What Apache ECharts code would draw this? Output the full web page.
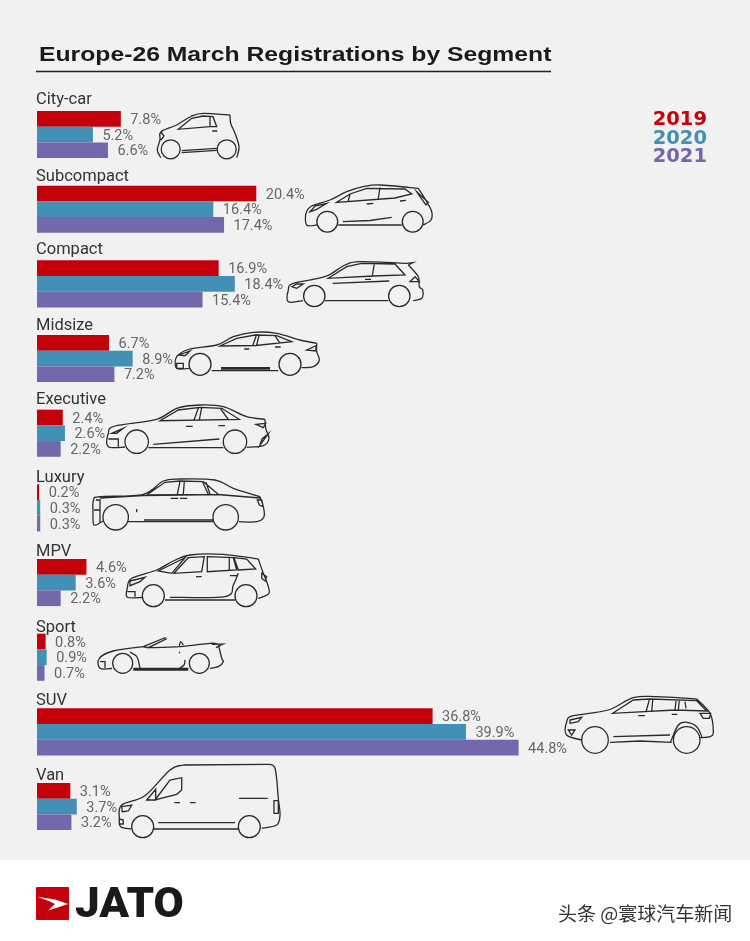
<!DOCTYPE html>
<html>
<head>
<meta charset="utf-8">
<title>Europe-26 March Registrations by Segment</title>
<script src="https://cdn.jsdelivr.net/npm/echarts@6/dist/echarts.min.js"></script>
<style>
  html, body { margin: 0; padding: 0; background: #f1f1f1; }
  #chart { width: 750px; height: 941px; }
</style>
</head>
<body>
<div id="chart"></div>
<script>
const categories = ['City-car', 'Subcompact', 'Compact', 'Midsize', 'Executive', 'Luxury', 'MPV', 'Sport', 'SUV', 'Van'];
const share2019 = [7.8, 20.4, 16.9, 6.7, 2.4, 0.2, 4.6, 0.8, 36.8, 3.1];
const share2020 = [5.2, 16.4, 18.4, 8.9, 2.6, 0.3, 3.6, 0.9, 39.9, 3.7];
const share2021 = [6.6, 17.4, 15.4, 7.2, 2.2, 0.3, 2.2, 0.7, 44.8, 3.2];
const years = ['2019', '2020', '2021'];

// how far each segment name sits above the middle of its bars
const labelLift = [34.5, 32, 34.2, 33, 32.9, 30.5, 31, 29.7, 31.3, 30.9];
const colors = ['#c4000b', '#4290b5', '#7268ac'];

// icon helpers, coordinates are page pixels
function curve(p) {
  let d = 'M' + p[0] + ' ' + p[1];
  const n = p.length / 2;
  const at = i => { i = Math.max(0, Math.min(n - 1, i)); return [p[i * 2], p[i * 2 + 1]]; };
  for (let i = 0; i < n - 1; i++) {
    const a = at(i - 1), b = at(i), c = at(i + 1), e = at(i + 2);
    d += 'C' + (b[0] + (c[0] - a[0]) / 6) + ' ' + (b[1] + (c[1] - a[1]) / 6) + ' ' +
      (c[0] - (e[0] - b[0]) / 6) + ' ' + (c[1] - (e[1] - b[1]) / 6) + ' ' + c[0] + ' ' + c[1];
  }
  return d;
}
function poly(p, closed) {
  let d = 'M' + p[0] + ' ' + p[1];
  for (let i = 2; i < p.length; i += 2) d += 'L' + p[i] + ' ' + p[i + 1];
  return closed ? d + 'Z' : d;
}
function wheel(x, y, r) {
  return 'M' + (x - r) + ' ' + y + 'a' + r + ' ' + r + ' 0 1 0 ' + 2 * r + ' 0a' + r + ' ' + r + ' 0 1 0 ' + -2 * r + ' 0';
}

const carPaths = [
  // city-car
  [wheel(170.7, 149.3, 9.5), wheel(226.7, 149.3, 9.5),
   curve([160.7, 157.7, 157.3, 150, 160, 140, 161, 131.7, 176.7, 125, 191.7, 116, 203.3, 113.3, 230, 115]),
   curve([230, 115, 230.7, 123.3, 235, 133.3, 239, 146.7, 236.7, 157.7]),
   poly([181.7, 150.7, 216.7, 148.3]), poly([181.7, 152.7, 216.7, 150.3]),
   poly([178.3, 129.3, 191.7, 118.3, 203, 116, 213, 116.7, 216.7, 126.7, 210, 126.7], true),
   poly([210, 117.3, 210, 126.7]), poly([212.3, 131, 217.3, 131]), poly([161, 132, 164, 136, 161, 140])],
  // subcompact
  [wheel(327.3, 221.7, 10.4), wheel(412.7, 221.7, 10.4),
   curve([316.7, 225, 306.7, 225, 306, 213.3, 311.7, 206, 330, 200, 346.7, 191.7, 363.3, 186.7, 380, 185, 418.3, 188.3]),
   curve([418.3, 188.3, 426.7, 201.7, 431.7, 211.7, 431, 220, 423.3, 225]),
   poly([338.3, 225, 401.7, 225]), poly([342.7, 221.7, 370, 220.5, 391.7, 217.3]),
   poly([336.7, 202.3, 350, 194, 366.7, 188.3, 405, 189, 411.7, 194, 395, 198], true),
   poly([350, 194, 348.3, 201]), poly([380, 187.5, 378.3, 198.5]),
   poly([366.7, 204, 373.3, 203.3]), poly([400, 201, 406, 200.3]),
   poly([310, 211.7, 315, 206, 326.7, 203.3, 316.7, 209.3], true),
   poly([416.7, 191.7, 428.3, 202.3, 426, 205, 420, 196.7], true)],
  // compact
  [wheel(314.3, 296, 10.7), wheel(399.3, 296, 10.7),
   curve([303, 300.7, 288.3, 301.7, 288.3, 290, 293.3, 283.3, 325, 276.7, 345, 265, 360, 261.7, 406.7, 263.3]),
   poly([406.7, 263.3, 413.3, 262.5, 408.3, 265]),
   curve([408.3, 265, 418.3, 276.7, 419.3, 286.7, 422.7, 290, 421.7, 298.3, 413.3, 300.7]),
   poly([325, 300.7, 388.3, 300.7]), poly([332.7, 283.3, 389.3, 281]), poly([365, 279.3, 371, 279.3]),
   poly([328.3, 278.3, 346.7, 266.7, 361.7, 263.3, 395, 264, 405, 275, 373.3, 276], true),
   poly([374.3, 264, 372.3, 276]),
   poly([410, 281.7, 419.3, 281.7, 415, 276.7], true),
   poly([291.7, 286.7, 296.7, 284, 303.3, 284, 296.7, 288.3], true)],
  // midsize
  [wheel(200, 364.3, 11), wheel(290, 364.3, 11),
   curve([189, 368.3, 176.7, 368.3, 176.7, 356.7, 190, 349, 216.7, 345, 233.3, 336.7, 253.3, 332.3, 276.7, 333.3, 300, 340, 316.7, 343.3]),
   curve([316.7, 343.3, 316.7, 351.7, 319.3, 360, 313.3, 366.7, 301.7, 367.7]),
   poly([211.7, 370.7, 278.3, 370.7]), poly([221, 367.7, 270, 367.7]), poly([221, 369, 270, 369]),
   poly([220, 346, 236.7, 338.3, 255, 335, 276.7, 335.7, 291.7, 341.7, 256, 345.5], true),
   poly([256.7, 334.3, 252.7, 345.7]), poly([259.3, 334.3, 256.7, 345]), poly([275, 335.7, 280, 343.3]),
   poly([244.3, 349, 249.3, 349]), poly([275, 347, 280.7, 347]),
   poly([179, 355, 190, 351, 185, 355.7], true), poly([306.7, 350, 316, 345.7, 316, 351], true),
   poly([176.7, 363.3, 183.3, 363.3, 183.3, 368.3, 176.7, 368.3], true)],
  // executive
  [wheel(136.7, 441.7, 11.7), wheel(235, 441.7, 11.7),
   curve([125, 447, 108.3, 446.7, 108.3, 433.3, 115, 426, 156.7, 419.3, 176.7, 408.3, 200, 405, 223.3, 406.7, 246.7, 416.7, 265, 419.3]),
   curve([265, 419.3, 265.7, 428.3, 269, 438.3, 263.3, 445.7, 246.7, 447.3]),
   poly([148.3, 447.7, 223.3, 447.7]), poly([153.3, 444.3, 219.3, 439]),
   poly([160, 420.7, 178.3, 410, 200, 407.3, 221.7, 408.3, 239.3, 419.3], true),
   poly([198.3, 408.3, 194, 420]), poly([201.7, 407.7, 199.3, 420]), poly([220.7, 409, 228.3, 419.3]),
   poly([186, 426.3, 192.7, 426.3]), poly([218.3, 425.7, 225, 425.7]),
   poly([111.7, 433.3, 123.3, 428.3, 116.7, 433.3], true), poly([256, 424.3, 265.7, 423.3, 263.3, 427.7], true),
   poly([108.3, 439, 118.3, 439, 118.3, 446.7], false), poly([260, 445, 268, 434, 262, 439], true)],
  // luxury
  [wheel(115.7, 517.3, 12.7), wheel(225.7, 517.3, 12.7),
   curve([103, 521, 94, 525, 93, 512, 93.5, 500, 100, 496.7, 143.3, 494.3, 163.3, 481, 180, 479, 215, 480, 233.3, 488.3, 260, 496.7]),
   curve([260, 496.7, 263.3, 506.7, 264, 516.7, 256.7, 521.7, 239, 521.7]),
   poly([128.3, 521.7, 213.3, 521.7]), poly([144, 520, 213.3, 520]), poly([100, 498, 143, 495.5, 218, 494.5, 260, 498]),
   poly([146.7, 495, 165, 482.3, 180, 481, 203.3, 481.7, 218.3, 494.3], true),
   poly([180, 481.7, 177.3, 494.3]), poly([184.3, 481.7, 183.3, 494.3]),
   poly([202.7, 482.3, 208.3, 494.3]), poly([206, 482.3, 210, 494.3]),
   poly([170.7, 498.3, 178.3, 498.3]), poly([180, 498.3, 187.3, 498.3]), poly([136.7, 509, 136.7, 512.3]),
   poly([257.3, 500, 261.7, 500, 263.3, 506.7, 259.3, 505], true),
   poly([96, 500, 100, 500, 100, 523]), poly([94, 510, 100, 510])],
  // mpv
  [wheel(153.3, 595.7, 11), wheel(246, 595.7, 11),
   curve([142, 597.5, 127.3, 597.3, 127.3, 588.3, 131.7, 578.3, 156.7, 570, 173.3, 561, 190, 555, 223.3, 554.3, 258.3, 559]),
   curve([258.3, 559, 263.3, 573.3, 266.7, 581.7, 269, 593.3, 258.3, 598.3]),
   poly([165, 600, 235, 600]),
   curve([170, 597.3, 225, 596.7, 233.3, 585, 238.3, 573.3]),
   poly([158.3, 571, 185, 557.7, 171.7, 573.3], true),
   poly([174, 573.3, 188.3, 557.7, 204.3, 556.7, 201.7, 571.7], true),
   poly([207.3, 556.7, 233.3, 557.7, 236.7, 570, 207.3, 571.7], true),
   poly([229.3, 558.3, 229.3, 571]),
   poly([234, 557.7, 246.7, 559, 255.7, 569, 238.3, 570], true),
   poly([196, 576.7, 201.7, 576.7]), poly([230, 575.7, 236.7, 575.7]),
   poly([130, 581, 145, 577.3, 140, 581.7, 130, 585.7], true),
   poly([127.3, 591.7, 135, 591.7, 135, 596.7]),
   poly([261.7, 573.3, 266.7, 576.7, 265, 581, 261.7, 578.3], true)],
  // sport
  [wheel(122.7, 663.3, 10), wheel(199.3, 663.3, 10),
   curve([112, 668.5, 100, 668.3, 99.3, 658.3, 113.3, 651, 143.3, 646.7]),
   curve([148.3, 647.7, 180, 646.7, 210, 643.3, 218.3, 644.3]),
   curve([218.3, 644.3, 221.7, 658.3, 223.3, 661.7, 218.3, 666.7, 210, 668.3]),
   poly([133.3, 670, 188.3, 670]), poly([133.3, 668.5, 188.3, 668.5]),
   poly([143.3, 646.7, 165, 637.7, 166, 639, 148.3, 647.7], true),
   curve([179.3, 646, 180.7, 641.7, 183.3, 645]),
   poly([211.7, 644.3, 223.3, 644, 216, 647.7]),
   curve([130, 652, 137, 657, 140, 668.3]), curve([185, 660, 184, 665, 178.3, 669]),
   poly([179, 651.8, 180, 653]), poly([100, 661.7, 105, 661.7, 105, 668])],
  // suv
  [wheel(595, 740, 13.3), wheel(686.7, 740, 13.3),
   curve([581.7, 740, 566.7, 735, 566.7, 721.7, 573.3, 715.7, 608.3, 710, 633.3, 697.7, 656.7, 696.7, 696.7, 699]),
   curve([696.7, 699, 710, 713.3, 713.3, 731.7, 710, 736.7, 700, 737.7]),
   curve([702, 737, 696.7, 726.7, 686.7, 722.3, 678.3, 725, 670.7, 741.7]),
   poly([610, 742.3, 640, 741, 671.7, 742.3]), poly([613.3, 736.7, 670, 735]),
   poly([612.7, 713.3, 633.3, 700, 650, 699, 696.7, 700.7, 706.7, 711, 675, 710], true),
   poly([649.3, 700, 646, 711.7]), poly([652.7, 700, 651.7, 711.7]), poly([676, 701, 675, 710]),
   poly([679.3, 701, 678.3, 710]), poly([685, 701.7, 686, 708.3]),
   poly([638.3, 715.7, 645, 715.7]), poly([671.7, 714.3, 677.3, 714.3]),
   poly([570, 720, 581.7, 717.3, 578.3, 721.7, 570, 723.3], true),
   poly([568.3, 730, 575, 730, 571.7, 735], true),
   poly([700, 713.3, 710.7, 713.3, 709.3, 718.3, 703.3, 718.3], true)],
  // van
  [wheel(142.7, 826.7, 11), wheel(249.3, 826.7, 11),
   curve([131, 829, 120.7, 826.7, 119.3, 818.3, 121.7, 805, 145, 795.7, 170, 770, 183.3, 765]),
   poly([183.3, 765, 266.7, 764.3]),
   curve([266.7, 764.3, 275, 768.3, 278.3, 798.3, 280, 815, 276.7, 825, 261.7, 828.3]),
   poly([154, 829, 238.3, 829]), poly([158.3, 822.7, 235, 822.7]),
   poly([155, 800, 170, 780, 181.7, 777.7, 181.7, 790, 176.7, 794.3], true),
   poly([146.7, 800, 155.7, 789.3, 155.7, 800], true),
   poly([174.3, 802.7, 180, 802.7]), poly([190, 802.7, 195.7, 802.7]), poly([239, 798.3, 267.7, 798.3]),
   poly([274, 800.7, 278.3, 800.7, 278.3, 813.3, 274, 813.3], true),
   poly([121.7, 806.7, 131.7, 805, 128.3, 811, 122.3, 811.7], true),
   poly([119.3, 819, 123.3, 820, 123.3, 824, 119.3, 824], true)]
];

// graphic component has no plain path type, so register each car as a shape
carPaths.forEach((parts, i) => {
  echarts.graphic.registerShape('car' + i, echarts.graphic.extendPath(parts.join('')));
});

function barSeries(name, values, color) {
  return {
    name: name,
    type: 'bar',
    data: values,
    barWidth: 15.7,
    barGap: 0,
    silent: true,
    itemStyle: { color: color },
    label: {
      show: true,
      position: 'right',
      distance: 9.5,
      offset: [0, 1.5],
      formatter: p => p.value.toFixed(1) + '%',
      fontFamily: 'Roboto',
      fontSize: 14.5,
      color: '#666'
    }
  };
}

// per-segment rich style lifts the name above its bars
const liftStyles = {};
labelLift.forEach((lift, i) => {
  liftStyles['l' + i] = { padding: [0, 0, lift * 2, 0], fontFamily: 'Roboto', fontSize: 16.5, color: '#333' };
});

const chart = echarts.init(document.getElementById('chart'));
chart.setOption({
  backgroundColor: '#f1f1f1',
  animation: false,
  legend: {
    orient: 'vertical',
    right: 43,
    top: 110,
    icon: 'none',
    itemWidth: 0,
    itemHeight: 0,
    itemGap: -1.5,
    selectedMode: false,
    padding: 0,
    data: years.map((y, i) => ({
      name: y,
      textStyle: { color: colors[i] }
    })),
    textStyle: { fontFamily: 'DejaVu Sans', fontWeight: 'bold', fontSize: 19.5, lineHeight: 18.5 }
  },
  grid: { left: 37, top: 97.2, width: 645, height: 746.7 },
  xAxis: { type: 'value', min: 0, max: 60, show: false },
  yAxis: {
    type: 'category',
    inverse: true,
    data: categories,
    axisLine: { show: false },
    axisTick: { show: false },
    axisLabel: {
      inside: true,
      margin: -1,
      align: 'left',
      verticalAlign: 'middle',
      formatter: (value, index) => '{l' + index + '|' + value + '}',
      rich: liftStyles
    }
  },
  series: [
    barSeries(years[0], share2019, colors[0]),
    barSeries(years[1], share2020, colors[1]),
    barSeries(years[2], share2021, colors[2])
  ],
  graphic: [
    // footer
    { type: 'rect', z: -1, silent: true, shape: { x: 0, y: 860, width: 750, height: 81 }, style: { fill: '#fff' } },
    { type: 'rect', shape: { x: 36, y: 887, width: 33, height: 33, r: 1 }, style: { fill: '#c4000b' } },
    { type: 'polygon', shape: { points: [[37.3, 896.7], [55, 899.5], [68.3, 904], [48.3, 910.5], [55, 904], [50, 901.5]] }, style: { fill: '#fff' } },
    {
      type: 'text', x: 75, y: 885, scaleX: 1.02,
      style: { text: 'JATO', fontFamily: 'Roboto', fontWeight: 900, fontSize: 43, fill: '#1a1a1a' }
    },
    {
      type: 'text', x: 558, y: 904,
      style: { text: '头条 @寰球汽车新闻', fontFamily: 'Noto Sans CJK SC', fontSize: 19, fill: '#333' }
    },
    // title
    {
      type: 'text', x: 39, y: 44.5, scaleX: 1.206,
      style: { text: 'Europe-26 March Registrations by Segment', fontFamily: 'Liberation Sans', fontWeight: 'bold', fontSize: 20.5, fill: '#1a1a1a' }
    },
    { type: 'line', shape: { x1: 36, y1: 71.5, x2: 551, y2: 71.5 }, style: { stroke: '#222', lineWidth: 1.5 } }
  ].concat(carPaths.map((parts, i) => ({
    type: 'car' + i,
    silent: true,
    style: { fill: 'transparent', stroke: '#2a2a2a', lineWidth: 1.3 }
  })))
});
</script>
</body>
</html>
